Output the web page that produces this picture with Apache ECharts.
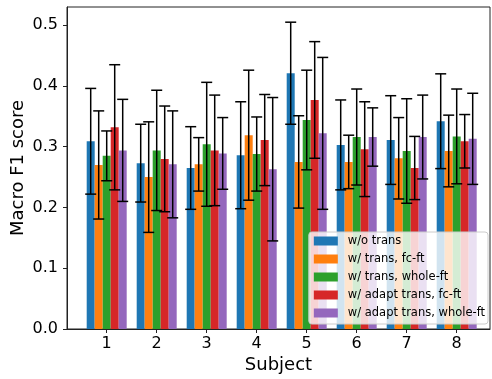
<!DOCTYPE html>
<html>
<head>
<meta charset="utf-8">
<script src="https://cdn.jsdelivr.net/npm/echarts@6/dist/echarts.min.js"></script>
<style>
  html, body { margin: 0; padding: 0; background: #fff; }
  #bars { width: 492px; height: 379px; }
</style>
</head>
<body>
<div id="bars"></div>
<script>
// subjects on the x axis
var subjects = [1, 2, 3, 4, 5, 6, 7, 8];
var seriesNames = ['w/o trans', 'w/ trans, fc-ft', 'w/ trans, whole-ft', 'w/ adapt trans, fc-ft', 'w/ adapt trans, whole-ft'];
var yTicks = [0, 0.1, 0.2, 0.3, 0.4, 0.5];

// mean macro F1 per subject
var woTrans    = [0.309, 0.273, 0.265, 0.286, 0.421, 0.303, 0.311, 0.342];
var transFc    = [0.270, 0.250, 0.271, 0.319, 0.275, 0.275, 0.281, 0.293];
var transWhole = [0.285, 0.294, 0.304, 0.288, 0.344, 0.316, 0.293, 0.317];
var adaptFc    = [0.332, 0.280, 0.294, 0.311, 0.377, 0.296, 0.265, 0.309];
var adaptWhole = [0.294, 0.271, 0.289, 0.263, 0.322, 0.316, 0.316, 0.313];

// error bar half-lengths (std)
var woTransErr    = [0.087, 0.064, 0.068, 0.088, 0.084, 0.074, 0.073, 0.078];
var transFcErr    = [0.089, 0.091, 0.044, 0.107, 0.076, 0.044, 0.067, 0.059];
var transWholeErr = [0.041, 0.099, 0.102, 0.061, 0.082, 0.079, 0.086, 0.078];
var adaptFcErr    = [0.103, 0.087, 0.091, 0.075, 0.096, 0.078, 0.052, 0.044];
var adaptWholeErr = [0.084, 0.088, 0.059, 0.118, 0.125, 0.048, 0.069, 0.075];

var means = [woTrans, transFc, transWhole, adaptFc, adaptWhole];
var errs = [woTransErr, transFcErr, transWholeErr, adaptFcErr, adaptWholeErr];
var colors = ['#1f77b4', '#ff7f0e', '#2ca02c', '#d62728', '#9467bd'];

var barW = 0.16; // bar width in x units
var font = 'DejaVu Sans';
var axisColor = '#222';

function errRender(offset) {
    return function (params, api) {
        var x = api.value(0) + offset;
        var m = api.value(1), e = api.value(2);
        var top = api.coord([x, m + e]);
        var bot = api.coord([x, m - e]);
        var cap = 5.5;
        var st = { stroke: '#000', lineWidth: 1.5 };
        return {
            type: 'group',
            children: [
                { type: 'line', shape: { x1: top[0], y1: top[1], x2: bot[0], y2: bot[1] }, style: st },
                { type: 'line', shape: { x1: top[0] - cap, y1: top[1], x2: top[0] + cap, y2: top[1] }, style: st },
                { type: 'line', shape: { x1: bot[0] - cap, y1: bot[1], x2: bot[0] + cap, y2: bot[1] }, style: st }
            ]
        };
    };
}

var series = [];
for (var i = 0; i < means.length; i++) {
    var barData = [];
    for (var j = 0; j < subjects.length; j++) {
        barData.push([subjects[j], means[i][j]]);
    }
    series.push({
        name: seriesNames[i],
        type: 'bar',
        data: barData,
        barWidth: 8,
        barGap: '0%',
        itemStyle: { color: colors[i] },
        z: 2
    });
}
// error bars, drawn on top of the bars
for (var k = 0; k < means.length; k++) {
    var ed = [];
    for (var j2 = 0; j2 < subjects.length; j2++) {
        ed.push([subjects[j2], means[k][j2], errs[k][j2]]);
    }
    series.push({
        name: 'err' + k,
        type: 'custom',
        renderItem: errRender((k - 2) * barW),
        data: ed,
        z: 3,
        silent: true
    });
}

var chart = echarts.init(document.getElementById('bars'));
var option = {
    animation: false,
    textStyle: { fontFamily: font },
    grid: {
        left: 67, right: 2, top: 7, bottom: 50,
        outerBoundsMode: 'none',
        containLabel: false,
        show: true, borderColor: axisColor, borderWidth: 1
    },
    legend: {
        data: seriesNames,
        orient: 'vertical',
        right: 4,
        bottom: 55,
        icon: 'rect',
        itemWidth: 24,
        itemHeight: 9,
        itemGap: 6,
        padding: [3, 3, 5, 5],
        backgroundColor: 'rgba(255,255,255,0.8)',
        borderColor: '#cccccc',
        borderWidth: 1,
        borderRadius: 3,
        textStyle: { fontFamily: font, fontSize: 11.5, color: '#000', padding: [0, 0, 0, 5] }
    },
    xAxis: {
        type: 'value',
        min: 0.206,
        max: 8.666,
        name: 'Subject',
        nameLocation: 'middle',
        nameGap: 27,
        nameMoveOverlap: false,
        nameTextStyle: { fontFamily: font, fontSize: 18, color: '#000' },
        axisLine: { show: true, lineStyle: { color: axisColor, width: 1 } },
        axisTick: { show: true, length: 4, customValues: subjects, lineStyle: { color: axisColor } },
        axisLabel: { customValues: subjects, fontSize: 16, color: '#000', margin: 7, fontFamily: font },
        splitLine: { show: false }
    },
    yAxis: {
        type: 'value',
        min: 0,
        max: 0.53,
        name: 'Macro F1 score',
        nameLocation: 'middle',
        nameGap: 40,
        nameMoveOverlap: false,
        nameTextStyle: { fontFamily: font, fontSize: 18, color: '#000' },
        axisLine: { show: true, lineStyle: { color: axisColor, width: 1 } },
        axisTick: { show: true, length: 4, customValues: yTicks, lineStyle: { color: axisColor } },
        axisLabel: {
            customValues: yTicks, fontSize: 16, color: '#000', margin: 9, fontFamily: font,
            formatter: function (v) { return v.toFixed(1); }
        },
        splitLine: { show: false }
    },
    series: series
};
chart.setOption(option);

window.onresize = function () {
    chart.resize();
};
</script>
</body>
</html>
